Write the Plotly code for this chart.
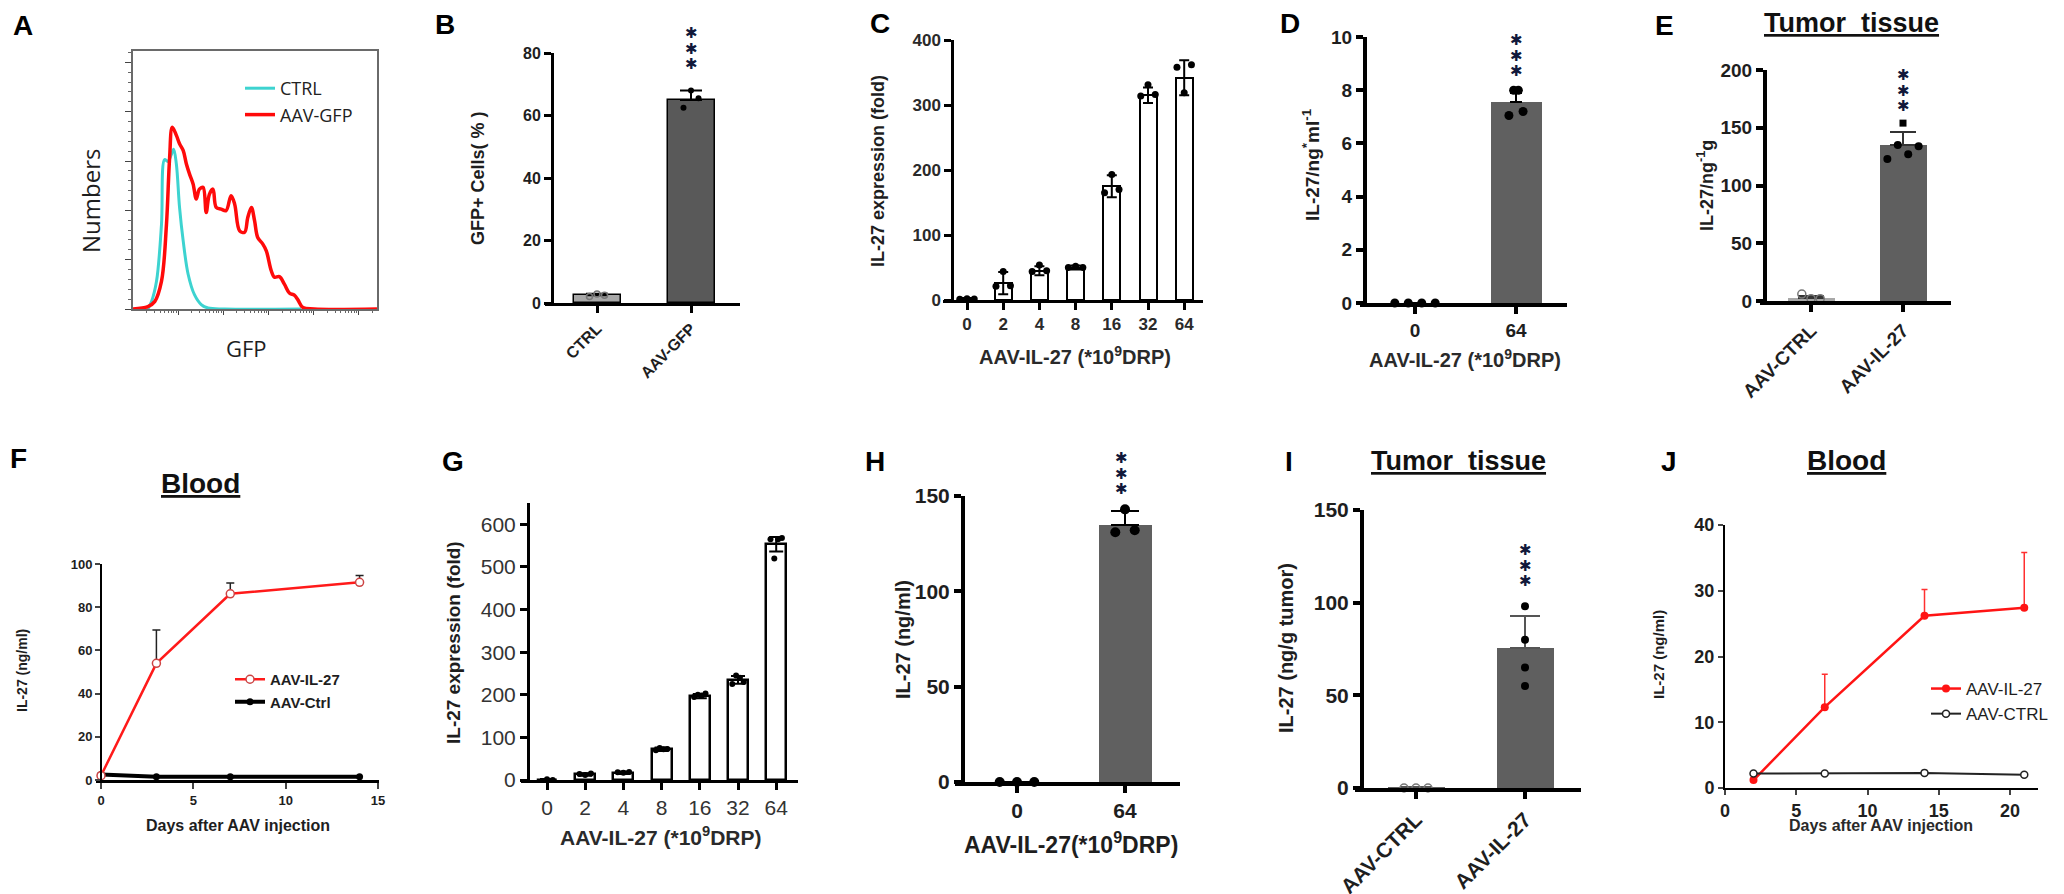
import numpy as np
import plotly.graph_objects as go

W, H = 2064, 894
FONT = "Liberation Sans, Arial, sans-serif"
INK = "#1e1e1e"

# ---- A: flow histogram (x in log decades, y as % of max)
gfp_ctrl_x = [0.33, 0.41, 0.52, 0.63, 0.70, 0.77, 0.85, 0.90, 0.96, 1.03, 1.11, 1.22,
              1.36, 1.51, 1.66, 2.03, 3.72]
gfp_ctrl_y = [0, 3.0, 11.2, 34.1, 60.6, 59.8, 62.7, 64.8, 58.7, 41.2, 27.7, 14.1,
              5.8, 1.8, 0.4, 0, 0]
gfp_aav_x = [0, 0.33, 0.48, 0.63, 0.74, 0.81, 0.87, 0.96, 1.03, 1.11, 1.18, 1.25, 1.33,
             1.40, 1.47, 1.55, 1.62, 1.69, 1.77, 1.84, 1.95, 2.06, 2.17, 2.25, 2.36,
             2.47, 2.54, 2.62, 2.69, 2.76, 2.87, 2.95, 3.06, 3.13, 3.24, 3.35, 3.46,
             3.57, 3.65, 3.76, 4.01, 5.40]
gfp_aav_y = [0, 1.0, 3.0, 11.2, 34.1, 61.2, 73.7, 70.4, 67.0, 64.3, 58.9, 54.8, 50.7,
             44.6, 48.6, 49.3, 39.1, 46.5, 48.6, 41.2, 40.5, 39.9, 45.9, 42.5, 31.7,
             31.1, 37.1, 41.2, 35.8, 29.0, 26.4, 23.6, 15.5, 12.9, 13.1, 10.1, 6.5,
             5.6, 3.7, 0.6, 0, 0]

# ---- B
b_groups = ["CTRL", "AAV-GFP"]
b_mean = [2.5, 65]
b_sd = [0.5, 3]
b_points = [[2.1, 2.9, 2.5], [62.5, 68.0, 65.5]]

# ---- C
dose_labels = ["0", "2", "4", "8", "16", "32", "64"]
c_mean = [2, 26, 45, 50, 175, 315, 342]
c_sd = [1, 17, 7, 3, 17, 12, 27]
c_points = [[1, 2, 1.5], [21, 44, 22], [44, 54, 45], [50, 52, 50],
            [165, 193, 170], [314, 331, 316], [358, 319, 362]]

# ---- D
d_groups = ["0", "64"]
d_mean = [0, 7.55]
d_sd = [0, 0.35]
d_points = [[0, 0, 0, 0], [7.05, 8.0, 8.0, 7.2]]

# ---- E
e_groups = ["AAV-CTRL", "AAV-IL-27"]
e_mean = [3, 135]
e_sd = [1, 11]
e_points = [[6, 2, 2], [123, 135, 127, 134]]
e_outlier = 154

# ---- F
f_days = [0, 3, 7, 14]
f_il27 = [2, 54, 86.2, 91.5]
f_il27_sd = [1, 15.5, 5, 3.2]
f_ctrl = [2.5, 1.5, 1.5, 1.5]

# ---- G
g_mean = [0.5, 13, 17, 72, 197, 235, 553]
g_sd = [2, 3, 3, 4, 5, 9, 17]
g_points = [[-2, 2, 0], [14, 12, 15], [18, 17, 19], [70, 75, 72, 73],
            [195, 200, 198, 203], [225, 245, 240, 230], [565, 520, 565, 568]]

# ---- H
h_groups = ["0", "64"]
h_mean = [0, 135]
h_sd = [0, 7]
h_points = [[0, 0, 0], [131, 143, 132]]

# ---- I
i_groups = ["AAV-CTRL", "AAV-IL-27"]
i_mean = [0.3, 75.5]
i_sd = [0.2, 17.5]
i_points = [[0, 0, 0], [98, 80, 65, 55]]

# ---- J
j_days = [2, 7, 14, 21]
j_il27 = [1.2, 12.3, 26.2, 27.4]
j_il27_sd = [0.3, 5.0, 4.0, 8.4]
j_ctrl = [2.2, 2.2, 2.3, 2.0]


def fx(px):
    return px / W


def fy(py):
    return 1 - py / H


def ax_names(i):
    s = "" if i == 1 else str(i)
    return "x" + s, "y" + s, "xaxis" + s, "yaxis" + s


fig = go.Figure()
layout = {}
annotations = []


def text(x, y, s, size, bold=True, angle=0, color=INK, family=FONT, xanchor="center"):
    annotations.append(dict(
        x=fx(x), y=fy(y), xref="paper", yref="paper", text=s, showarrow=False,
        textangle=angle, xanchor=xanchor, yanchor="middle",
        font=dict(family=family, size=size, color=color, weight="bold" if bold else "normal"),
    ))


def stars(x, y_mid):
    # three stacked significance stars on a tight line pitch
    star = '<span style="font-size:15px">\u2731</span>'
    text(x, y_mid - 3, "<br>".join([star] * 3), 12, color="#12183a",
         family="DejaVu Sans")


def bar_panel(i, labels, means, sds, points, *, xl, xr, yax, c0, step, yt, yb, ymax,
              tickvals, bar_px, fill, bar_line=0, axis_w=3, tick_size=16,
              tick_weight="bold", tick_color=INK, angle=0, symmetric=False, cap=8,
              dot=8, spread=(0.1, 0.1), open_groups=(), err_color="black"):
    xn, yn, xa, ya = ax_names(i)
    n = len(labels)
    fig.add_trace(go.Bar(
        x=list(range(n)), y=means, width=bar_px / step, xaxis=xn, yaxis=yn,
        marker=dict(color=fill, line=dict(color="black", width=bar_line)),
        error_y=dict(type="data", array=sds, arrayminus=sds if symmetric else [0] * n,
                     symmetric=symmetric, color=err_color, thickness=2, width=cap),
        showlegend=False,
    ))
    for g, pts in enumerate(points):
        k = len(pts)
        offs = np.linspace(-spread[g], spread[g], k) if k > 1 else [0]
        is_open = g in open_groups
        fig.add_trace(go.Scatter(
            x=[g + o for o in offs], y=pts, mode="markers", xaxis=xn, yaxis=yn,
            marker=dict(size=dot, color="#777" if is_open else "black",
                        symbol="circle-open" if is_open else "circle",
                        line=dict(width=1.5 if is_open else 0, color="#777")),
            cliponaxis=False, showlegend=False,
        ))
    tf = dict(family=FONT, size=tick_size, color=tick_color, weight=tick_weight)
    layout[xa] = dict(
        domain=[fx(xl), fx(xr)], range=[(xl - c0) / step, (xr - c0) / step], anchor=yn,
        showline=True, linecolor="black", linewidth=axis_w, ticks="outside", ticklen=7,
        tickwidth=axis_w, tickcolor="black", tickvals=list(range(n)), ticktext=labels,
        tickangle=angle, tickfont=tf, showgrid=False, zeroline=False,
    )
    layout[ya] = dict(
        domain=[fy(yb), fy(yt)], range=[0, ymax], anchor="free", position=fx(yax),
        showline=True, linecolor="black", linewidth=axis_w, ticks="outside", ticklen=7,
        tickwidth=axis_w, tickcolor="black", tickvals=tickvals, tickfont=tf,
        showgrid=False, zeroline=False,
    )


# ---------------- A
xn, yn, xa, ya = ax_names(1)
fig.add_trace(go.Scatter(x=gfp_ctrl_x, y=gfp_ctrl_y, mode="lines", name="CTRL",
                         line=dict(color="#3dd3d0", width=3, shape="spline"),
                         xaxis=xn, yaxis=yn, legend="legend"))
fig.add_trace(go.Scatter(x=gfp_aav_x, y=gfp_aav_y, mode="lines", name="AAV-GFP",
                         line=dict(color="#ff0a0a", width=3.5, shape="spline"),
                         xaxis=xn, yaxis=yn, legend="legend"))
minor_x = [d + np.log10(k) for d in range(6) for k in range(2, 10) if d + np.log10(k) < 5.4]
layout[xa] = dict(domain=[fx(125), fx(369)], range=[0, 5.4], anchor=yn, showline=True,
                  mirror=True, linecolor="#6a6a6a", linewidth=1.5, ticks="outside",
                  ticklen=4, tickvals=[1, 2, 3, 4, 5], tickcolor="#444", showticklabels=False,
                  minor=dict(ticks="outside", ticklen=2, tickvals=minor_x, tickcolor="#666"),
                  showgrid=False, zeroline=False)
layout[ya] = dict(domain=[fy(301), fy(43)], range=[0, 104.6], anchor=xn, showline=True,
                  mirror=True, linecolor="#6a6a6a", linewidth=1.5, ticks="outside",
                  ticklen=6, dtick=20, tickcolor="#444", showticklabels=False,
                  minor=dict(ticks="outside", ticklen=3, dtick=4, tickcolor="#666"),
                  showgrid=False, zeroline=False)
text(82, 193, "Numbers", 24, bold=False, angle=-90, family="Open Sans")
text(238, 340, "GFP", 22, bold=False, family="Open Sans")

# ---------------- B
bar_panel(2, b_groups, b_mean, b_sd, b_points, xl=537, xr=732, yax=544, c0=589, step=94,
          yt=45, yb=295, ymax=80, tickvals=[0, 20, 40, 60, 80], bar_px=47,
          fill=["#a8a8a8", "#595959"], bar_line=1.5, axis_w=3, tick_size=16, angle=-45,
          cap=11, dot=6, spread=(0.08, 0.08), open_groups=(0,))
text(470, 170, "GFP+ Cells( % )", 18, angle=-90)
stars(683, 43)

# ---------------- C
bar_panel(3, dose_labels, c_mean, c_sd, c_points, xl=935, xr=1195, yax=944, c0=959,
          step=36.2, yt=32, yb=292, ymax=400, tickvals=[0, 100, 200, 300, 400], bar_px=17,
          fill="white", bar_line=2, axis_w=2.5, tick_size=17, tick_color="#2a2a2a",
          symmetric=True, cap=5, dot=7, spread=[0.2] * 7)
text(870, 163, "IL-27 expression (fold)", 18, angle=-90)
text(1067, 347, "AAV-IL-27 (*10<sup>9</sup>DRP)", 20, color="#2a2a2a")

# ---------------- D
bar_panel(4, d_groups, d_mean, d_sd, d_points, xl=1352, xr=1559, yax=1357, c0=1407,
          step=101, yt=29, yb=295, ymax=10, tickvals=[0, 2, 4, 6, 8, 10], bar_px=51,
          fill="#606060", axis_w=4, tick_size=19, cap=6, dot=9, spread=(0.2, 0.07))
text(1303, 157, "IL-27/ng<sup>*</sup>ml<sup>-1</sup>", 19, angle=-90)
text(1457, 350, "AAV-IL-27 (*10<sup>9</sup>DRP)", 20, color="#2a2a2a")
stars(1508, 50)

# ---------------- E
bar_panel(5, e_groups, e_mean, e_sd, e_points, xl=1752, xr=1943, yax=1757, c0=1803,
          step=92, yt=62, yb=293, ymax=200, tickvals=[0, 50, 100, 150, 200], bar_px=47,
          fill=["#a8a8a8", "#5f5f5f"], axis_w=4, tick_size=19, angle=-45, cap=13, dot=8,
          spread=(0.1, 0.17), open_groups=(0,), err_color="#333")
fig.add_trace(go.Scatter(x=[1], y=[e_outlier], mode="markers", xaxis="x5", yaxis="y5",
                         marker=dict(symbol="square", size=7, color="black"),
                         cliponaxis=False, showlegend=False))
text(1697, 178, "IL-27/ng<sup>-1</sup>g", 18, angle=-90)
stars(1895, 85)
text(1843, 15, "<u>Tumor\u00a0\u00a0tissue</u>", 27, color="#111")

# ---------------- F
xn, yn, xa, ya = ax_names(6)
fig.add_trace(go.Scatter(x=f_days, y=f_ctrl, mode="lines+markers", name="AAV-Ctrl",
                         line=dict(color="black", width=4), marker=dict(size=7, color="black"),
                         xaxis=xn, yaxis=yn, legend="legend2", cliponaxis=False))
fig.add_trace(go.Scatter(x=f_days, y=f_il27, mode="lines+markers", name="AAV-IL-27",
                         line=dict(color="#ff1a1a", width=2.5),
                         marker=dict(size=8, color="white", symbol="circle",
                                     line=dict(color="#c44", width=1.5)),
                         error_y=dict(type="data", array=f_il27_sd, arrayminus=[0] * 4,
                                      symmetric=False, color="#222", thickness=1.5, width=4),
                         xaxis=xn, yaxis=yn, legend="legend2", cliponaxis=False))
tf = dict(family=FONT, size=13, color=INK, weight="bold")
layout[xa] = dict(domain=[fx(88), fx(371)], range=[(88 - 93) / 18.47, (371 - 93) / 18.47],
                  anchor=yn, showline=True, linecolor="black", linewidth=3, ticks="outside",
                  ticklen=6, tickwidth=2, tickvals=[0, 5, 10, 15], tickfont=tf,
                  showgrid=False, zeroline=False)
layout[ya] = dict(domain=[fy(772), fy(556)], range=[0, 100], anchor="free", position=fx(93),
                  showline=True, linecolor="black", linewidth=2, ticks="outside", ticklen=5,
                  tickwidth=1.5, tickvals=[0, 20, 40, 60, 80, 100], tickfont=tf,
                  showgrid=False, zeroline=False)
text(14, 663, "IL-27 (ng/ml)", 14, angle=-90)
text(230, 817, "Days after AAV injection", 16)
text(192, 475, "<u>Blood</u>", 28, color="#111")

# ---------------- G
bar_panel(7, dose_labels, g_mean, g_sd, g_points, xl=513, xr=790, yax=520, c0=539,
          step=38.2, yt=495, yb=772, ymax=650, tickvals=[0, 100, 200, 300, 400, 500, 600],
          bar_px=20, fill="white", bar_line=2.5, axis_w=3, tick_size=21,
          tick_weight="normal", tick_color="#333", symmetric=True, cap=7, dot=6,
          spread=[0.15] * 7)
text(445, 635, "IL-27 expression (fold)", 19, angle=-90)
text(653, 828, "AAV-IL-27 (*10<sup>9</sup>DRP)", 21, color="#2a2a2a")

# ---------------- H
bar_panel(8, h_groups, h_mean, h_sd, h_points, xl=947, xr=1172, yax=955, c0=1009,
          step=108, yt=488, yb=774, ymax=150, tickvals=[0, 50, 100, 150], bar_px=53,
          fill="#606060", axis_w=4, tick_size=21, cap=14, dot=10, spread=(0.16, 0.09))
text(895, 632, "IL-27 (ng/ml)", 20, angle=-90)
text(1063, 835, "AAV-IL-27(*10<sup>9</sup>DRP)", 23)
stars(1113, 468)

# ---------------- I
bar_panel(9, i_groups, i_mean, i_sd, i_points, xl=1347, xr=1573, yax=1354, c0=1408,
          step=109, yt=502, yb=780, ymax=150, tickvals=[0, 50, 100, 150], bar_px=57,
          fill="#5f5f5f", axis_w=4, tick_size=21, angle=-45, cap=15, dot=8,
          spread=(0.11, 0.0), open_groups=(0,), err_color="#555")
text(1278, 640, "IL-27 (ng/g tumor)", 20, angle=-90)
stars(1517, 560)
text(1450, 453, "<u>Tumor\u00a0\u00a0tissue</u>", 27, color="#111")

# ---------------- J
xn, yn, xa, ya = ax_names(10)
fig.add_trace(go.Scatter(x=j_days, y=j_il27, mode="lines+markers", name="AAV-IL-27",
                         line=dict(color="#ff1414", width=2.5),
                         marker=dict(size=8, color="#ff1414"),
                         error_y=dict(type="data", array=j_il27_sd, arrayminus=[0] * 4,
                                      symmetric=False, color="#ff3030", thickness=1.5, width=3),
                         xaxis=xn, yaxis=yn, legend="legend3", cliponaxis=False))
fig.add_trace(go.Scatter(x=j_days, y=j_ctrl, mode="lines+markers", name="AAV-CTRL",
                         line=dict(color="#222", width=2),
                         marker=dict(size=7, color="white", line=dict(color="#222", width=1.5)),
                         xaxis=xn, yaxis=yn, legend="legend3", cliponaxis=False))
tf = dict(family=FONT, size=18, color=INK, weight="bold")
layout[xa] = dict(domain=[fx(1717), fx(2030)], range=[0, (2030 - 1717) / 14.25], anchor=yn,
                  showline=True, linecolor="black", linewidth=2, ticks="outside", ticklen=5,
                  tickwidth=2, tickvals=[0, 5, 10, 15, 20], tickfont=tf,
                  showgrid=False, zeroline=False)
layout[ya] = dict(domain=[fy(780), fy(517)], range=[0, 40], anchor=xn, showline=True,
                  linecolor="black", linewidth=2, ticks="outside", ticklen=5, tickwidth=2,
                  tickvals=[0, 10, 20, 30, 40], tickfont=tf, showgrid=False, zeroline=False)
text(1650, 647, "IL-27 (ng/ml)", 15, angle=-90)
text(1873, 817, "Days after AAV injection", 16, color="#2a2a2a")
text(1838, 452, "<u>Blood</u>", 28, color="#111")

# ---------------- panel letters
for letter, x, y in [("A", 3, 18), ("B", 425, 17), ("C", 860, 15), ("D", 1270, 15),
                     ("E", 1645, 18), ("F", 0, 450), ("G", 432, 453), ("H", 855, 453),
                     ("I", 1275, 453), ("J", 1651, 453)]:
    text(x, y, letter, 28, color="black", xanchor="left")

layout["legend"] = dict(x=fx(232), y=fy(62), xanchor="left", yanchor="top",
                        bgcolor="rgba(0,0,0,0)",
                        font=dict(family="Open Sans", size=18, color="#222"))
layout["legend2"] = dict(x=fx(222), y=fy(655), xanchor="left", yanchor="top",
                         bgcolor="rgba(0,0,0,0)", traceorder="reversed",
                         font=dict(family=FONT, size=15, color=INK, weight="bold"))
layout["legend3"] = dict(x=fx(1918), y=fy(663), xanchor="left", yanchor="top",
                         bgcolor="rgba(0,0,0,0)",
                         font=dict(family=FONT, size=17, color=INK))

fig.update_layout(
    width=W, height=H, margin=dict(l=0, r=0, t=0, b=0, autoexpand=False),
    paper_bgcolor="white", plot_bgcolor="rgba(0,0,0,0)",
    font=dict(family=FONT, color=INK), bargap=0,
    annotations=annotations, **layout,
)

fig.write_html("out.html")
